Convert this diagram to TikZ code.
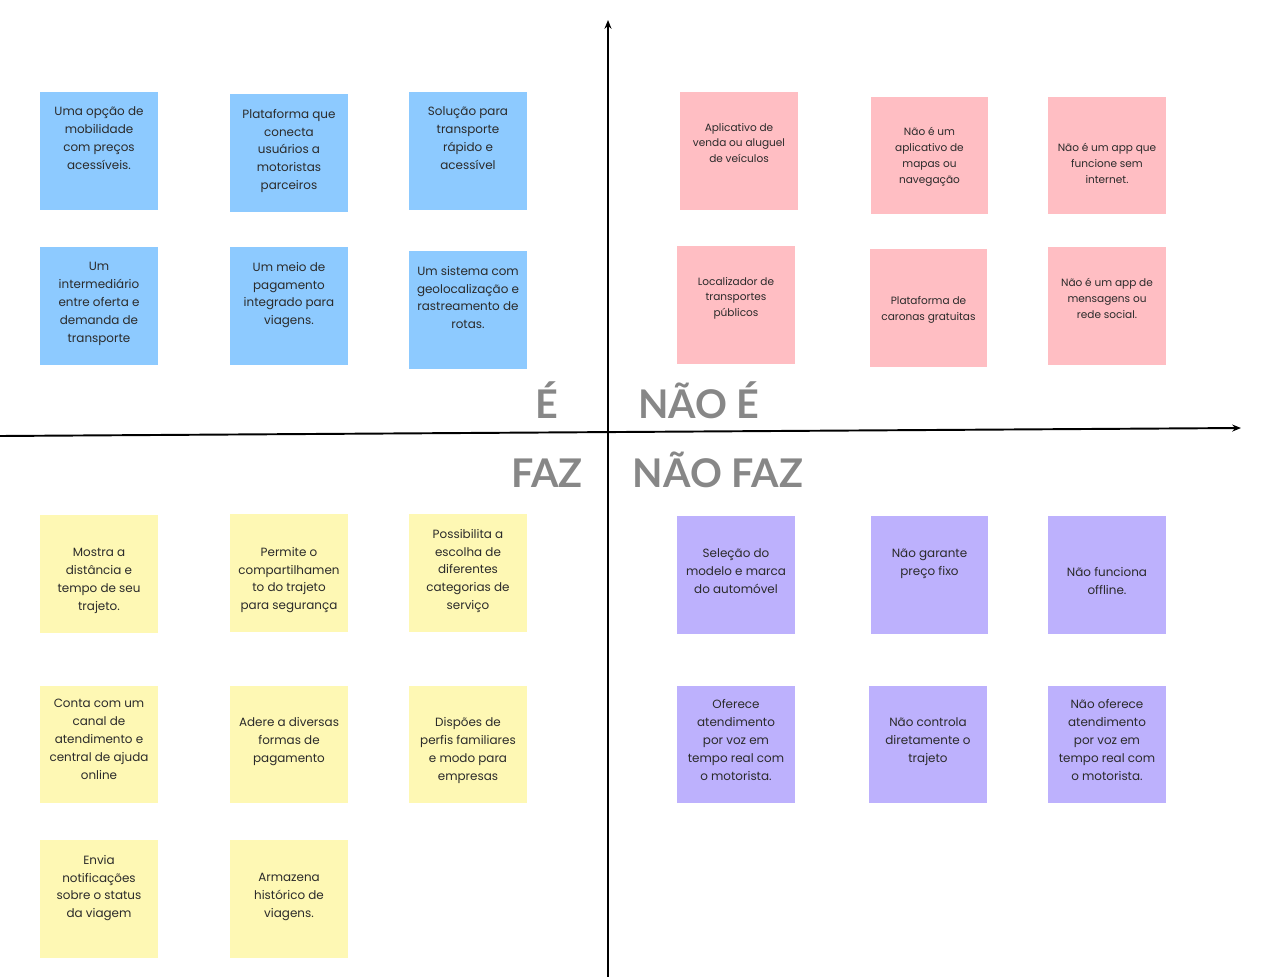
\documentclass[tikz,border=0pt]{standalone}
\usepackage{fontspec}
\setmainfont{Poppins}
\newfontfamily\headfont{Lato}
\usepackage{tikz}
\usetikzlibrary{calc,positioning,arrows.meta}
\definecolor{StickyBlue}{HTML}{8DCAFF}
\definecolor{StickyPink}{HTML}{FFBEC3}
\definecolor{StickyYellow}{HTML}{FEF8B4}
\definecolor{StickyPurple}{HTML}{BDB1FD}
\definecolor{LabelGrey}{HTML}{878787}
\definecolor{InkDark}{HTML}{2B2B2B}

\tikzset{
  sticky/.style={minimum width=2.36cm, minimum height=2.36cm, inner sep=0pt},
  stickytext/.style={inner sep=0pt, align=center, anchor=north, text=InkDark, font=\fontsize{6.8}{10.2}\selectfont},
  smalltext/.style={stickytext, font=\fontsize{6}{9.07}\selectfont},
  quadlabel/.style={text=LabelGrey, font=\headfont\bfseries\fontsize{22.5}{22.5}\selectfont, inner sep=0pt, anchor=base},
  axis/.style={line width=1.1pt, -{Stealth[length=5pt,width=4pt]}}
}

\begin{document}
\begin{tikzpicture}[x=0.02cm, y=-0.02cm]
  \useasboundingbox (0,0) rectangle (1262,977);

  % axes
  \coordinate (yfoot) at (608,977);
  \coordinate (ytip) at (608,20);
  \coordinate (xfoot) at (0,436);
  \coordinate (xtip) at (1241,428);
  \draw[axis] (yfoot) -- (ytip);
  \draw[axis] (xfoot) -- (xtip);

  % quadrant titles
  \node[quadlabel] (eh) at (547,418) {É};
  \node[quadlabel] (naoeh) at (699,418) {NÃO É};
  \node[quadlabel] (faz) at (547,487) {FAZ};
  \node[quadlabel] (naofaz) at (718,487) {NÃO FAZ};

  % it is
  \foreach \n/\x/\y/\k/\t in {
      b1/99/151/18/{Uma opção de\\mobilidade\\com preços\\acessíveis.},
      b2/289/153/18/{Plataforma que\\conecta\\usuários a\\motoristas\\parceiros},
      b3/468/151/18/{Solução para\\transporte\\rápido e\\acessível},
      b4/99/306/18/{Um\\intermediário\\entre oferta e\\demanda de\\transporte},
      b5/289/306/18/{Um meio de\\pagamento\\integrado para\\viagens.},
      b6/468/310/18/{Um sistema com\\geolocalização e\\rastreamento de\\rotas.}} {
    \node[sticky, fill=StickyBlue] (\n) at (\x,\y) {};
    \node[stickytext] (\n-txt) at ($(\n.north)+(0,\k-3)$) {\t};
  }

  % it is not
  \foreach \n/\x/\y/\k/\t in {
      p1/739/151/34/{Aplicativo de\\venda ou aluguel\\de veículos},
      p2/929.5/155.5/34/{Não é um\\aplicativo de\\mapas ou\\navegação},
      p3/1107/155.5/50/{Não é um app que\\funcione sem\\internet.},
      p4/736/305/34/{Localizador de\\transportes\\públicos},
      p5/928.5/308/50/{Plataforma de\\caronas gratuitas},
      p6/1107/306/34/{Não é um app de\\mensagens ou\\rede social.}} {
    \node[sticky, fill=StickyPink] (\n) at (\x,\y) {};
    \node[smalltext] (\n-txt) at ($(\n.north)+(0,\k-3)$) {\t};
  }

  % it does
  \foreach \n/\x/\y/\k/\t in {
      y1/99/574/36/{Mostra a\\distância e\\tempo de seu\\trajeto.},
      y2/289/573/36/{Permite o\\compartilhamen\\to do trajeto\\para segurança},
      y3/468/573/18/{Possibilita a\\escolha de\\diferentes\\categorias de\\serviço},
      y4/99/744.5/17/{Conta com um\\canal de\\atendimento e\\central de ajuda\\online},
      y5/289/744.5/35/{Adere a diversas\\formas de\\pagamento},
      y6/468/744.5/35/{Dispões de\\perfis familiares\\e modo para\\empresas},
      y7/99/899/18/{Envia\\notificações\\sobre o status\\da viagem},
      y8/289/899/36/{Armazena\\histórico de\\viagens.}} {
    \node[sticky, fill=StickyYellow] (\n) at (\x,\y) {};
    \node[stickytext] (\n-txt) at ($(\n.north)+(0,\k-3)$) {\t};
  }

  % it does not
  \foreach \n/\x/\y/\k/\t in {
      v1/736/575/36/{Seleção do\\modelo e marca\\do automóvel},
      v2/929.5/575/36/{Não garante\\preço fixo},
      v3/1107/575/54/{Não funciona\\offline.},
      v4/736/744.5/17/{Oferece\\atendimento\\por voz em\\tempo real com\\o motorista.},
      v5/928/744.5/35/{Não controla\\diretamente o\\trajeto},
      v6/1107/744.5/17/{Não oferece\\atendimento\\por voz em\\tempo real com\\o motorista.}} {
    \node[sticky, fill=StickyPurple] (\n) at (\x,\y) {};
    \node[stickytext] (\n-txt) at ($(\n.north)+(0,\k-3)$) {\t};
  }
\end{tikzpicture}
\end{document}
